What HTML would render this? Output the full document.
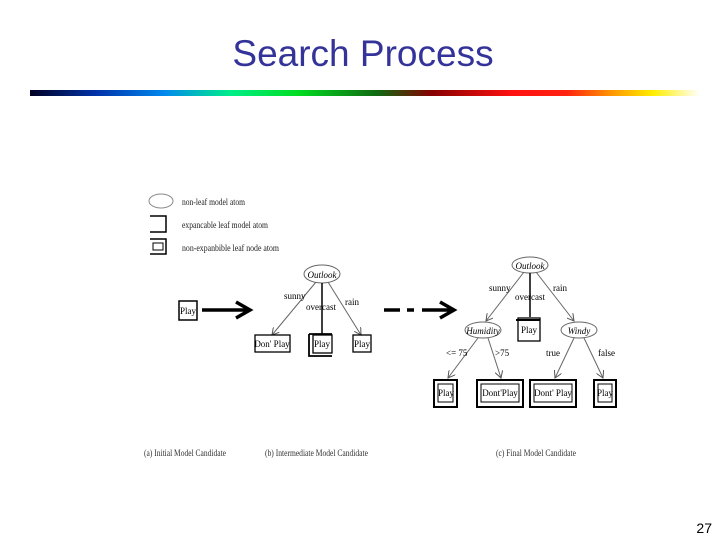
<!DOCTYPE html>
<html><head><meta charset="utf-8"><style>
html,body{margin:0;padding:0;background:#fff;}
svg text{font-family:"Liberation Serif",serif;}
</style></head><body>
<svg width="720" height="540" viewBox="0 0 720 540" xmlns="http://www.w3.org/2000/svg">
<defs>
<linearGradient id="g" x1="0" x2="1">
<stop offset="0" stop-color="#000022"/>
<stop offset="0.1" stop-color="#0033aa"/>
<stop offset="0.2" stop-color="#0088ee"/>
<stop offset="0.3" stop-color="#00ee88"/>
<stop offset="0.4" stop-color="#00dd22"/>
<stop offset="0.52" stop-color="#116611"/>
<stop offset="0.6" stop-color="#880000"/>
<stop offset="0.72" stop-color="#ff1111"/>
<stop offset="0.8" stop-color="#ff2211"/>
<stop offset="0.87" stop-color="#ff9900"/>
<stop offset="0.93" stop-color="#ffee00"/>
<stop offset="1" stop-color="#ffffff"/>
</linearGradient>
<marker id="a" markerWidth="8" markerHeight="8" refX="7" refY="4" orient="auto" markerUnits="userSpaceOnUse"><path d="M0,0 L7,4 L0,8" fill="none" stroke="#555" stroke-width="1"/></marker>
</defs>
<text x="363" y="66" text-anchor="middle" font-size="37" fill="#333399" style="font-family:'Liberation Sans',sans-serif">Search Process</text>
<rect x="30" y="90" width="670" height="6" fill="url(#g)"/>
<g font-size="9" fill="#222">
<ellipse cx="161" cy="201" rx="12" ry="7" fill="none" stroke="#888"/>
<path d="M150,216 H166 V232 H150" fill="none" stroke="#000" stroke-width="1.5"/>
<path d="M150,239 H166 V254 H150" fill="none" stroke="#000" stroke-width="1.5"/>
<rect x="153" y="243" width="10" height="7" fill="none" stroke="#000"/>
<text x="182" y="205" textLength="63" lengthAdjust="spacingAndGlyphs">non-leaf model atom</text>
<text x="182" y="228" textLength="86" lengthAdjust="spacingAndGlyphs">expancable leaf model atom</text>
<text x="182" y="251" textLength="97" lengthAdjust="spacingAndGlyphs">non-expanbible leaf node atom</text>
</g>
<g fill="none" stroke="#000">
<rect x="179" y="301" width="18" height="19" stroke-width="1.5"/>
<path d="M202,310 H248 M236,302 L250,310 L236,318" stroke-width="3.5"/>
<path d="M384,310 H400 M407,310 H414 M422,310 H452 M440,302 L454,310 L440,318" stroke-width="3.5"/>
</g>
<g font-size="9" fill="#000">
<text x="188" y="314" text-anchor="middle">Play</text>
</g>
<!-- tree b -->
<g fill="none" stroke="#666">
<ellipse cx="322" cy="274" rx="18" ry="9"/>
<path d="M316,282 L272,335" marker-end="url(#a)"/>
<path d="M328,282 L361,335" marker-end="url(#a)"/>
</g>
<path d="M322,283 V334" stroke="#000" stroke-width="1.5"/>
<rect x="255" y="335" width="35" height="17" fill="none" stroke="#000" stroke-width="1.3"/>
<rect x="313" y="335" width="19" height="18" fill="none" stroke="#000" stroke-width="1.3"/>
<path d="M309,334 H332 M309,334 V356 H332" fill="none" stroke="#000" stroke-width="1.8"/>
<rect x="353" y="335" width="18" height="17" fill="none" stroke="#000" stroke-width="1.3"/>
<g font-size="9" fill="#000">
<text x="322" y="278" text-anchor="middle" font-style="italic">Outlook</text>
<text x="284" y="299">sunny</text>
<text x="306" y="310">overcast</text>
<text x="345" y="305">rain</text>
<text x="272" y="347" text-anchor="middle">Don' Play</text>
<text x="322" y="347" text-anchor="middle">Play</text>
<text x="362" y="347" text-anchor="middle">Play</text>
</g>
<!-- tree c -->
<g fill="none" stroke="#666">
<ellipse cx="530" cy="265" rx="18" ry="8"/>
<ellipse cx="483" cy="330" rx="18" ry="8"/>
<ellipse cx="579" cy="330" rx="18" ry="8"/>
<path d="M524,272 L486,321" marker-end="url(#a)"/>
<path d="M536,272 L574,321" marker-end="url(#a)"/>
<path d="M478,338 L448,378" marker-end="url(#a)"/>
<path d="M488,338 L501,378" marker-end="url(#a)"/>
<path d="M574,338 L555,378" marker-end="url(#a)"/>
<path d="M584,338 L603,378" marker-end="url(#a)"/>
</g>
<path d="M530,273 V317" stroke="#000" stroke-width="1.5"/>
<rect x="518" y="318" width="22" height="23" fill="none" stroke="#000" stroke-width="1.3"/>
<path d="M516,320 H540" stroke="#000" stroke-width="2"/>
<g fill="none" stroke="#000">
<rect x="434" y="380" width="23" height="27" stroke-width="2"/><rect x="438" y="384" width="15" height="18"/>
<rect x="477" y="380" width="46" height="27" stroke-width="2"/><rect x="481" y="384" width="38" height="18"/>
<rect x="530" y="380" width="46" height="27" stroke-width="2"/><rect x="534" y="384" width="38" height="18"/>
<rect x="594" y="380" width="22" height="27" stroke-width="2"/><rect x="598" y="384" width="14" height="18"/>
</g>
<g font-size="9" fill="#000">
<text x="530" y="269" text-anchor="middle" font-style="italic">Outlook</text>
<text x="483" y="334" text-anchor="middle" font-style="italic">Humidity</text>
<text x="579" y="334" text-anchor="middle" font-style="italic">Windy</text>
<text x="489" y="291">sunny</text>
<text x="515" y="300">overcast</text>
<text x="553" y="291">rain</text>
<text x="529" y="333" text-anchor="middle">Play</text>
<text x="446" y="356">&lt;= 75</text>
<text x="495" y="356">&gt;75</text>
<text x="546" y="356">true</text>
<text x="598" y="356">false</text>
<text x="446" y="396" text-anchor="middle">Play</text>
<text x="500" y="396" text-anchor="middle">Dont'Play</text>
<text x="553" y="396" text-anchor="middle">Dont' Play</text>
<text x="605" y="396" text-anchor="middle">Play</text>
</g>
<g font-size="9" fill="#333" style="font-family:'Liberation Sans',sans-serif">
<text x="144" y="456" textLength="82" lengthAdjust="spacingAndGlyphs">(a) Initial Model Candidate</text>
<text x="265" y="456" textLength="103" lengthAdjust="spacingAndGlyphs">(b) Intermediate Model Candidate</text>
<text x="496" y="456" textLength="80" lengthAdjust="spacingAndGlyphs">(c) Final Model Candidate</text>
</g>
<text x="712" y="533" text-anchor="end" font-size="14" fill="#000" style="font-family:'Liberation Sans',sans-serif">27</text>
</svg>
</body></html>
